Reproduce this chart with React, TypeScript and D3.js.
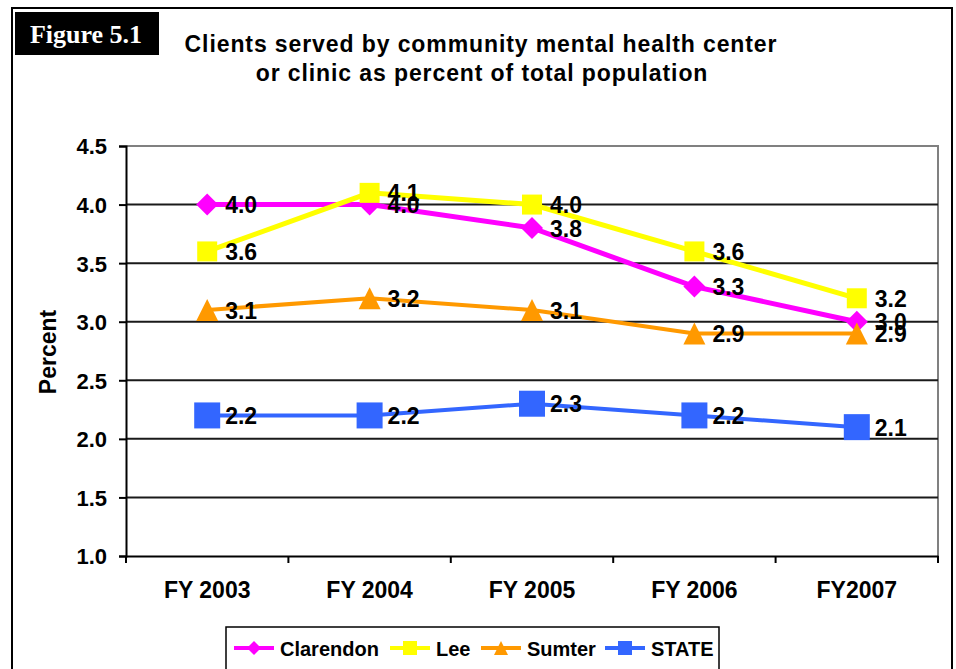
import React, { Component } from "react";
import * as d3 from "d3";

const years = ["FY 2003", "FY 2004", "FY 2005", "FY 2006", "FY2007"];
const clarendon = [4.0, 4.0, 3.8, 3.3, 3.0];
const lee = [3.6, 4.1, 4.0, 3.6, 3.2];
const sumter = [3.1, 3.2, 3.1, 2.9, 2.9];
const stateAvg = [2.2, 2.2, 2.3, 2.2, 2.1];
const yTicks = [1.0, 1.5, 2.0, 2.5, 3.0, 3.5, 4.0, 4.5];

const series = [
  { name: "Clarendon", values: clarendon, color: "#FF00FF", marker: "diamond", size: 11, width: 5 },
  { name: "Lee", values: lee, color: "#FFFF00", marker: "square", size: 10, width: 5 },
  { name: "Sumter", values: sumter, color: "#FF9900", marker: "triangle", size: 11, width: 4 },
  { name: "STATE", values: stateAvg, color: "#3366FF", marker: "square", size: 13, width: 4 },
];

const FONT = "'Liberation Sans', Arial, sans-serif";

const markerPath = (type, s) => {
  if (type === "diamond") return `M0,${-s}L${s},0L0,${s}L${-s},0Z`;
  if (type === "triangle") return `M0,${-s}L${s},${s}L${-s},${s}Z`;
  return `M${-s},${-s}H${s}V${s}H${-s}Z`;
};

class App extends Component {
  constructor(props) {
    super(props);
    this.graph = React.createRef();
  }
  componentDidMount() {
    this.drawGraph(this.graph);
  }
  drawGraph = (element) => {
    const svg = d3.select(element.current);
    svg.selectAll("*").remove();

    // outer frame
    svg
      .append("rect")
      .attr("x", 12)
      .attr("y", 8)
      .attr("width", 940)
      .attr("height", 700)
      .attr("fill", "white")
      .attr("stroke", "black")
      .attr("stroke-width", 2);

    // figure tag
    svg.append("rect").attr("x", 15).attr("y", 12).attr("width", 144).attr("height", 43).attr("fill", "black");
    svg
      .append("text")
      .attr("x", 86)
      .attr("y", 43)
      .attr("text-anchor", "middle")
      .attr("fill", "white")
      .style("font", "bold 26px 'Liberation Serif', 'Times New Roman', serif")
      .text("Figure 5.1");

    // title
    const title = svg
      .append("g")
      .style("font", `bold 23px ${FONT}`)
      .style("letter-spacing", "0.9px")
      .attr("text-anchor", "middle")
      .attr("fill", "black");
    title.append("text").attr("x", 481).attr("y", 52).text("Clients served by community mental health center");
    title.append("text").attr("x", 482).attr("y", 81).text("or clinic as percent of total population");

    const left = 126;
    const right = 938;
    const top = 146;
    const bottom = 556;

    const x = d3.scaleBand().domain(years).range([left, right]);
    const y = d3.scaleLinear().domain([1, 4.5]).range([bottom, top]);
    const cx = (i) => x(years[i]) + x.bandwidth() / 2;

    // plot border (top/right)
    svg
      .append("path")
      .attr("d", `M${left},${top}H${right}V${bottom}`)
      .attr("fill", "none")
      .attr("stroke", "#808080")
      .attr("stroke-width", 2);

    // gridlines
    svg
      .append("g")
      .selectAll("line")
      .data(yTicks.filter((t) => t > 1 && t < 4.5))
      .enter()
      .append("line")
      .attr("x1", left)
      .attr("x2", right)
      .attr("y1", (d) => y(d))
      .attr("y2", (d) => y(d))
      .attr("stroke", "#1a1a1a")
      .attr("stroke-width", 2);

    // y axis
    const yAxis = svg
      .append("g")
      .attr("transform", `translate(${left},0)`)
      .call(d3.axisLeft(y).tickValues(yTicks).tickFormat(d3.format(".1f")).tickSize(7).tickPadding(12));
    yAxis.select(".domain").attr("stroke", "black").attr("stroke-width", 2);
    yAxis.selectAll(".tick line").attr("stroke", "black").attr("stroke-width", 2);
    yAxis.selectAll("text").style("font", `bold 22px ${FONT}`).attr("fill", "black").attr("dy", "0.36em");

    // x axis
    const xAxis = svg
      .append("g")
      .attr("transform", `translate(0,${bottom})`)
      .call(d3.axisBottom(x).tickSize(0).tickPadding(26));
    xAxis.select(".domain").attr("stroke", "black").attr("stroke-width", 2);
    xAxis.selectAll("text").style("font", `bold 23px ${FONT}`).attr("fill", "black");
    xAxis
      .selectAll(".xtick")
      .data(d3.range(years.length + 1))
      .enter()
      .append("line")
      .attr("class", "xtick")
      .attr("x1", (d) => left + d * x.step())
      .attr("x2", (d) => left + d * x.step())
      .attr("y1", 0)
      .attr("y2", 7)
      .attr("stroke", "black")
      .attr("stroke-width", 2);

    // y label
    svg
      .append("text")
      .attr("transform", "translate(56,352) rotate(-90)")
      .attr("text-anchor", "middle")
      .style("font", `bold 23px ${FONT}`)
      .text("Percent");

    const line = d3
      .line()
      .x((d, i) => cx(i))
      .y((d) => y(d));

    series.forEach((s) => {
      svg
        .append("path")
        .datum(s.values)
        .attr("d", line)
        .attr("fill", "none")
        .attr("stroke", s.color)
        .attr("stroke-width", s.width);
    });

    series.forEach((s) => {
      svg
        .append("g")
        .selectAll("path")
        .data(s.values)
        .enter()
        .append("path")
        .attr("transform", (d, i) => `translate(${cx(i)},${y(d)})`)
        .attr("d", markerPath(s.marker, s.size))
        .attr("fill", s.color);
    });

    series.forEach((s) => {
      svg
        .append("g")
        .selectAll("text")
        .data(s.values)
        .enter()
        .append("text")
        .attr("x", (d, i) => cx(i) + 18)
        .attr("y", (d) => y(d) + 8.5)
        .style("font", `bold 23px ${FONT}`)
        .attr("fill", "black")
        .text((d) => d3.format(".1f")(d));
    });

    // legend
    svg
      .append("rect")
      .attr("x", 226)
      .attr("y", 627)
      .attr("width", 493)
      .attr("height", 60)
      .attr("fill", "white")
      .attr("stroke", "black")
      .attr("stroke-width", 1.5);
    const legendX = [234, 390, 481, 605];
    series.forEach((s, i) => {
      const g = svg.append("g").attr("transform", `translate(${legendX[i]},648)`);
      g.append("line").attr("x1", 0).attr("x2", 40).attr("stroke", s.color).attr("stroke-width", 4);
      g.append("path")
        .attr("transform", "translate(20,0)")
        .attr("d", markerPath(s.marker, 7))
        .attr("fill", s.color);
      g.append("text")
        .attr("x", 46)
        .attr("y", 8)
        .style("font", `bold 20px ${FONT}`)
        .attr("fill", "black")
        .text(s.name);
    });
  };
  render() {
    return (
      <svg
        ref={this.graph}
        width={956}
        height={669}
        style={{ position: "absolute", left: 0, top: 0, background: "white" }}
      ></svg>
    );
  }
}

export default App;
